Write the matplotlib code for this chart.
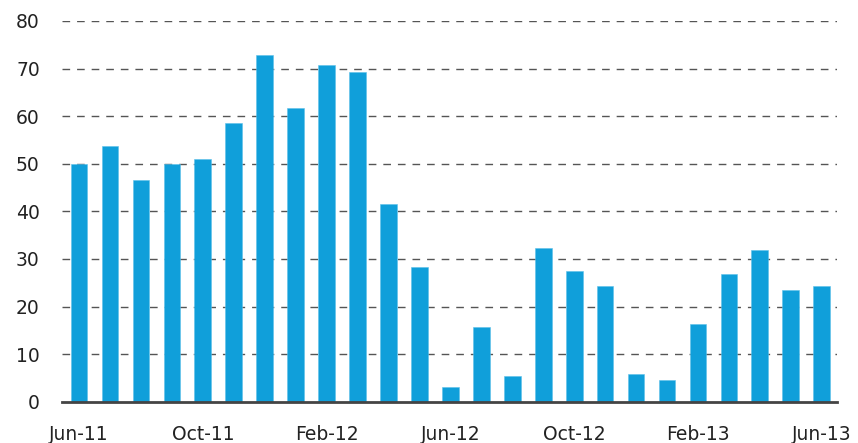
import matplotlib

matplotlib.use("Agg")
import matplotlib.pyplot as plt
import numpy as np

# monthly values, Jun-11 .. Jun-13
months = ["Jun-11", "Jul-11", "Aug-11", "Sep-11", "Oct-11", "Nov-11", "Dec-11",
          "Jan-12", "Feb-12", "Mar-12", "Apr-12", "May-12", "Jun-12", "Jul-12",
          "Aug-12", "Sep-12", "Oct-12", "Nov-12", "Dec-12", "Jan-13", "Feb-13",
          "Mar-13", "Apr-13", "May-13", "Jun-13"]
values = [49.9, 53.8, 46.6, 49.9, 50.9, 58.5, 72.9, 61.7, 70.7, 69.3, 41.5, 28.3,
          3.0, 15.6, 5.5, 32.2, 27.5, 24.3, 5.9, 4.5, 16.3, 26.8, 31.9, 23.5, 24.3]
yticks = [0, 10, 20, 30, 40, 50, 60, 70, 80]

BAR = "#109fda"
GRID = "#555555"

fig = plt.figure(figsize=(8.58, 4.43), dpi=100)
ax = fig.add_axes([0.0723, 0.0932, 0.9027, 0.8594])

x = np.arange(len(values))
ax.bar(x, values, width=0.54, color=BAR, edgecolor="#5cc0ea", linewidth=0.4, zorder=2)

ax.set_xlim(-0.55, len(values) - 0.52)
ax.set_ylim(0, 80)
ax.set_yticks(yticks)
ax.set_yticklabels([str(v) for v in yticks])
ax.set_xticks(x[::4])
ax.set_xticklabels(months[::4])

for v in yticks[1:]:
    ax.axhline(v, color=GRID, linestyle=(0, (5.5, 5)), linewidth=1.0, zorder=1)

for s in ("top", "right", "left"):
    ax.spines[s].set_visible(False)
ax.spines["bottom"].set_color("#444444")
ax.spines["bottom"].set_linewidth(2.0)
ax.spines["bottom"].set_zorder(3)

ax.tick_params(axis="both", length=0, labelsize=13.5, colors="#222222")
ax.tick_params(axis="y", pad=16)
ax.tick_params(axis="x", pad=17)

fig.savefig("out.png", dpi=100)
